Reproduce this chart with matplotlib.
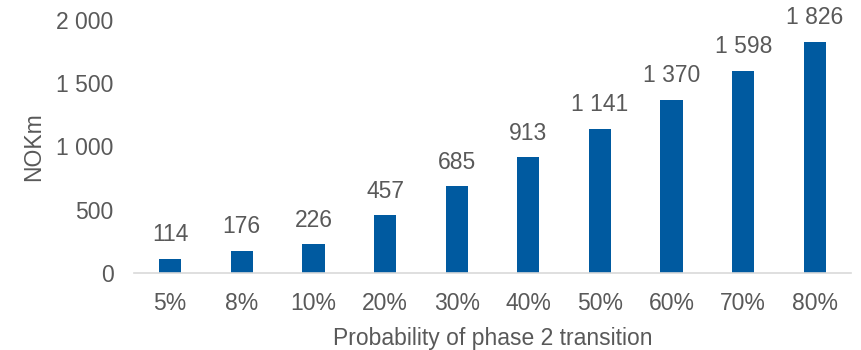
import matplotlib
matplotlib.use("Agg")
import matplotlib.pyplot as plt
from matplotlib.ticker import FuncFormatter

categories = ["5%", "8%", "10%", "20%", "30%", "40%", "50%", "60%", "70%", "80%"]
values = [114, 176, 226, 457, 685, 913, 1141, 1370, 1598, 1826]
y_ticks = [0, 500, 1000, 1500, 2000]

plt.rcParams["font.family"] = ["Liberation Sans", "DejaVu Sans"]
text_color = "#595959"
bar_color = "#005AA0"
fs = 16.5

def fmt(v):
    return f"{int(v):,}".replace(",", " ")

fig = plt.figure(figsize=(8.61, 3.5), dpi=100)
ax = fig.add_axes([0.156, 0.22, 0.832, 0.723])

x = range(len(categories))
bars = ax.bar(x, values, width=0.31, color=bar_color, zorder=2)
for xi, v in zip(x, values):
    ax.annotate(fmt(v), (xi, v), xytext=(0, 9), textcoords="offset points",
                ha="center", va="bottom", fontsize=fs, color=text_color)

ax.set_xlim(-0.5, len(categories) - 0.5)
ax.set_ylim(0, 2000)
ax.set_yticks(y_ticks)
ax.yaxis.set_major_formatter(FuncFormatter(lambda v, p: fmt(v)))
ax.set_xticks(list(x))
ax.set_xticklabels(categories)

for s in ["top", "right", "left"]:
    ax.spines[s].set_visible(False)
ax.spines["bottom"].set_color("#D9D9D9")
ax.spines["bottom"].set_linewidth(1.2)
ax.tick_params(axis="both", length=0, labelsize=fs, colors=text_color)
ax.tick_params(axis="y", pad=15)
ax.tick_params(axis="x", pad=14)

ax.set_ylabel("NOKm", fontsize=fs, color=text_color, labelpad=8)
ax.set_xlabel("Probability of phase 2 transition", fontsize=fs, color=text_color, labelpad=8)

fig.savefig("out.png", dpi=100)
